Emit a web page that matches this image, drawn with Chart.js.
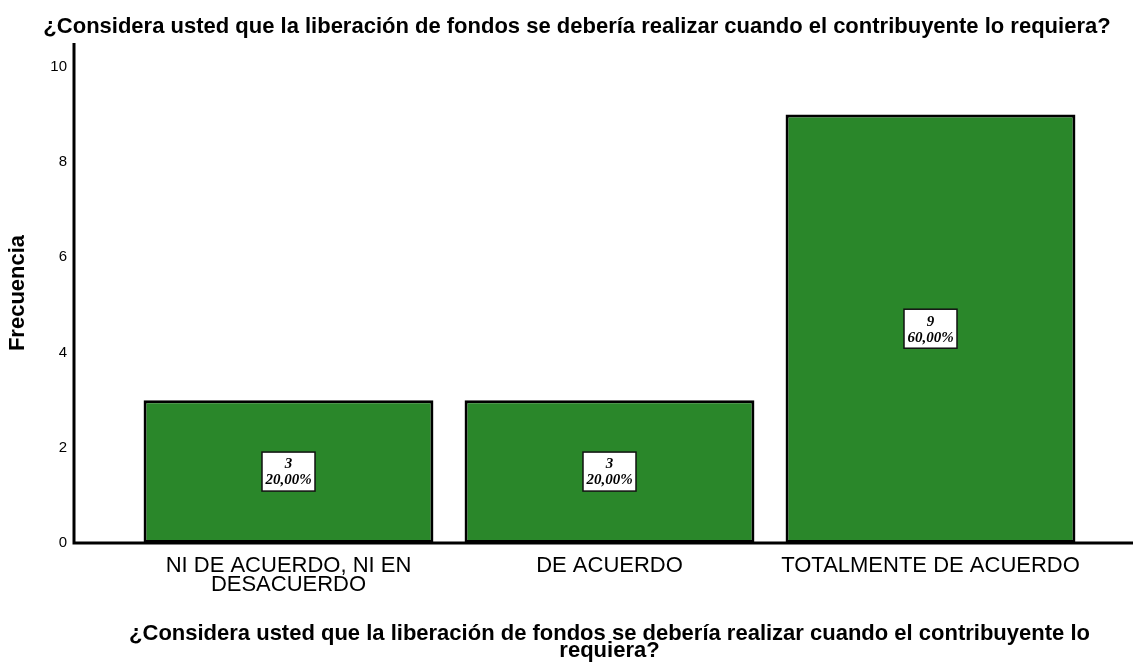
<!DOCTYPE html>
<html>
<head>
<meta charset="utf-8">
<script src="https://cdn.jsdelivr.net/npm/chart.js@4.4.0/dist/chart.umd.min.js"></script>
<style>
  html, body { margin: 0; padding: 0; background: #fff; }
  #wrap { width: 1133px; height: 662px; }
</style>
</head>
<body>
<div id="wrap"><canvas id="c" width="1133" height="662"></canvas></div>
<script>
const titulo = '¿Considera usted que la liberación de fondos se debería realizar cuando el contribuyente lo requiera?';
const categorias = [['NI DE ACUERDO, NI EN', 'DESACUERDO'], 'DE ACUERDO', 'TOTALMENTE DE ACUERDO'];
const frecuencias = [3, 3, 9];
const porcentajes = ['20,00%', '20,00%', '60,00%'];
const ticksY = [0, 2, 4, 6, 8, 10];
const tituloX = ['¿Considera usted que la liberación de fondos se debería realizar cuando el contribuyente lo', 'requiera?'];

const fuente = '"Liberation Sans", Arial, sans-serif';

// y-axis line sits left of the first bar, x-axis runs to the edge
const ejes = {
    id: 'ejes',
    afterDraw(chart) {
        const { ctx, chartArea } = chart;
        const x0 = 74;
        ctx.save();
        ctx.strokeStyle = '#000';
        ctx.lineWidth = 3;
        ctx.beginPath();
        ctx.moveTo(x0, chartArea.top);
        ctx.lineTo(x0, chartArea.bottom);
        ctx.lineTo(chart.width, chartArea.bottom);
        ctx.stroke();

        ctx.fillStyle = '#000';
        ctx.font = 'bold 22px ' + fuente;
        ctx.textAlign = 'center';
        ctx.textBaseline = 'middle';
        ctx.fillText(titulo, 577, 27);
        ctx.restore();
    }
};

const etiquetas = {
    id: 'etiquetas',
    afterDatasetsDraw(chart) {
        const { ctx } = chart;
        const meta = chart.getDatasetMeta(0);
        ctx.save();
        ctx.font = 'bold italic 15px "Liberation Serif", "DejaVu Serif", serif';
        ctx.textAlign = 'center';
        ctx.textBaseline = 'middle';
        meta.data.forEach((bar, i) => {
            const cy = (bar.y + bar.base) / 2;
            const w = 53, h = 39;
            ctx.fillStyle = '#fff';
            ctx.fillRect(bar.x - w / 2, cy - h / 2, w, h);
            ctx.strokeStyle = '#111';
            ctx.lineWidth = 1.5;
            ctx.strokeRect(bar.x - w / 2, cy - h / 2, w, h);
            ctx.fillStyle = '#000';
            ctx.fillText(String(frecuencias[i]), bar.x, cy - 7);
            ctx.fillText(porcentajes[i], bar.x, cy + 9);
        });
        ctx.restore();
    }
};

new Chart(document.getElementById('c'), {
    type: 'bar',
    data: {
        labels: categorias,
        datasets: [{
            data: frecuencias,
            backgroundColor: '#2a872a',
            borderColor: '#000',
            borderWidth: 3,
            borderSkipped: false,
            categoryPercentage: 1,
            barPercentage: 0.903
        }]
    },
    options: {
        responsive: false,
        animation: false,
        layout: { padding: { top: 43, right: 42, left: 0, bottom: 0 } },
        plugins: {
            legend: { display: false },
            tooltip: { enabled: false },
            title: { display: false }
        },
        scales: {
            x: {
                afterFit(scale) { scale.height = 119; },
                grid: { display: false, drawTicks: false },
                border: { display: false },
                ticks: {
                    color: '#000',
                    padding: 13,
                    maxRotation: 0,
                    autoSkip: false,
                    font: { family: fuente, size: 22, lineHeight: 0.89 }
                },
                title: {
                    display: true,
                    text: tituloX,
                    color: '#000',
                    padding: { top: 0, bottom: 2 },
                    font: { family: fuente, size: 22, weight: 'bold', lineHeight: 0.8 }
                }
            },
            y: {
                min: 0,
                max: 10.5,
                afterFit(scale) {
                    scale.width = 128;
                    // big tick padding should not push the plot area down
                    scale.paddingTop = 0;
                    scale.paddingBottom = 0;
                },
                afterBuildTicks(scale) {
                    scale.ticks = ticksY.map(v => ({ value: v }));
                },
                grid: { display: false, drawTicks: false },
                border: { display: false },
                ticks: {
                    color: '#000',
                    padding: 61,
                    font: { family: fuente, size: 15 }
                },
                title: {
                    display: true,
                    text: 'Frecuencia',
                    color: '#000',
                    padding: { top: 5, bottom: 0 },
                    font: { family: fuente, size: 22, weight: 'bold' }
                }
            }
        }
    },
    plugins: [ejes, etiquetas]
});
</script>
</body>
</html>
